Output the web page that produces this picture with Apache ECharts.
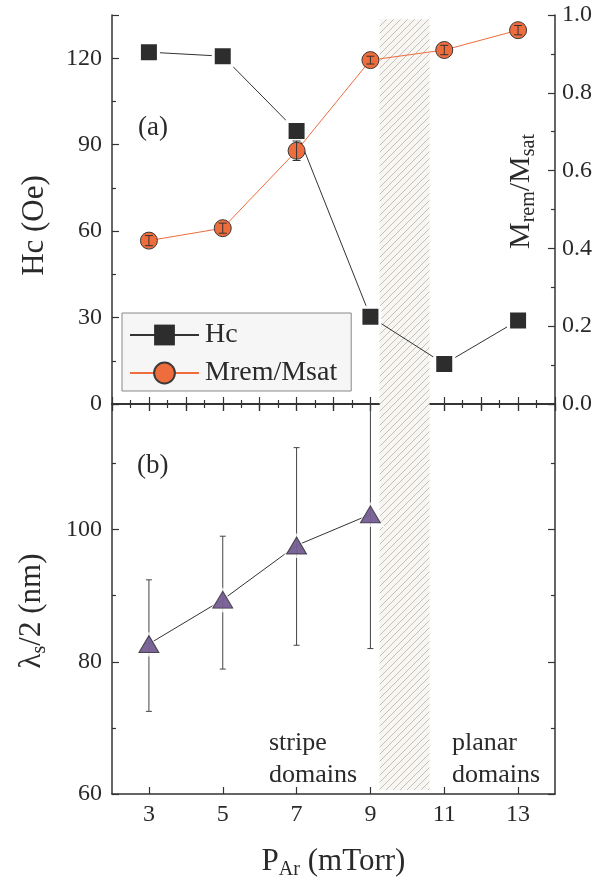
<!DOCTYPE html>
<html>
<head>
<meta charset="utf-8">
<script src="https://cdn.jsdelivr.net/npm/echarts@6/dist/echarts.min.js"></script>
<style>
  html, body { margin: 0; padding: 0; background: #fff; }
  #chart { width: 598px; height: 886px; }
</style>
</head>
<body>
<div id="chart"></div>
<script>
// panel (a): coercive field and remanence ratio vs Ar pressure
const pressure = [3, 5, 7, 9, 11, 13];
const hc = [122.1, 120.7, 94.7, 30.3, 13.9, 29.0];
const mRatio = [0.420, 0.452, 0.651, 0.884, 0.910, 0.961];
const mRatioErr = [0.013, 0.013, 0.025, 0.010, 0.012, 0.012];

// panel (b): half stripe period
const lambdaPressure = [3, 5, 7, 9];
const lambdaHalf = [82.7, 89.4, 97.6, 102.3];
const lambdaLow = [72.5, 78.9, 82.5, 82.0];
const lambdaHigh = [92.4, 99.0, 112.4, 122.6];

// ticks and shaded transition region
const xLabelTicks = [3, 5, 7, 9, 11, 13];
const xMinorTicks = [4, 6, 8, 10, 12];
const hatchX = [9.25, 10.6];

const FONT = '"Liberation Serif", "Times New Roman", serif';
const INK = '#2a2a2a';
const AXIS = '#333';

function hatchPattern() {
    let c = document.createElement('canvas');
    c.width = 7; c.height = 7;
    let ctx = c.getContext('2d');
    ctx.fillStyle = '#f7f6f3';
    ctx.fillRect(0, 0, 7, 7);
    ctx.strokeStyle = '#c6bfb7';
    ctx.lineWidth = 1;
    ctx.beginPath();
    ctx.moveTo(-1, 8);
    ctx.lineTo(8, -1);
    ctx.stroke();
    return { image: c, repeat: 'repeat' };
}

function errorBars(capHalf, color) {
    return function (params, api) {
        let x = api.value(0);
        let lo = api.coord([x, api.value(1)]);
        let hi = api.coord([x, api.value(2)]);
        let style = { stroke: color, lineWidth: 1 };
        return {
            type: 'group',
            children: [
                { type: 'line', shape: { x1: lo[0], y1: lo[1], x2: hi[0], y2: hi[1] }, style: style },
                { type: 'line', shape: { x1: lo[0] - capHalf, y1: lo[1], x2: lo[0] + capHalf, y2: lo[1] }, style: style },
                { type: 'line', shape: { x1: hi[0] - capHalf, y1: hi[1], x2: hi[0] + capHalf, y2: hi[1] }, style: style }
            ]
        };
    };
}

const tickLabel = { fontFamily: FONT, fontSize: 24, color: INK };
const axisLine = { lineStyle: { color: AXIS, width: 1.5 } };
const majorTick = { inside: true, length: 7, lineStyle: { color: AXIS, width: 1.2 } };
const minorTick = { show: true, splitNumber: 2, length: 4, lineStyle: { color: AXIS, width: 1.2 } };
const subStyle = { fontFamily: FONT, fontSize: 20, color: INK, padding: [16, 0, 0, 0] };
const nameBase = { fontFamily: FONT, fontSize: 31, color: INK };

let chart = echarts.init(document.getElementById('chart'));
let hatch = hatchPattern();

let option = {
    animation: false,
    backgroundColor: '#fff',
    grid: [
        { left: 112, right: 43, top: 15, height: 389, outerBoundsMode: 'none', containLabel: false },
        { left: 112, right: 43, top: 404, height: 390, outerBoundsMode: 'none', containLabel: false }
    ],
    legend: {
        left: 122, top: 313,
        orient: 'vertical',
        backgroundColor: '#f6f6f6',
        borderColor: '#888', borderWidth: 1,
        padding: [8, 14, 4, 7],
        itemWidth: 69, itemHeight: 26, itemGap: 10,
        textStyle: { fontFamily: FONT, fontSize: 28, color: INK, padding: [0, 0, 0, 1] },
        data: [
            { name: 'Hc', itemStyle: { borderWidth: 0 } },
            { name: 'Mrem/Msat' }
        ]
    },
    xAxis: [
        // panel (a) bottom and top
        { gridIndex: 0, type: 'value', min: 2, max: 14, interval: 1, axisLine: axisLine,
          axisTick: majorTick, minorTick: minorTick, axisLabel: { show: false }, splitLine: { show: false } },
        { gridIndex: 0, type: 'value', position: 'top', min: 2, max: 14, interval: 1, axisLine: axisLine,
          axisTick: majorTick, minorTick: minorTick, axisLabel: { show: false }, splitLine: { show: false } },
        // panel (b) bottom: labelled odd ticks
        { gridIndex: 1, type: 'value', min: 2, max: 14, axisLine: axisLine,
          axisTick: Object.assign({}, majorTick, { customValues: xLabelTicks }),
          axisLabel: Object.assign({}, tickLabel, { margin: 9, customValues: xLabelTicks }),
          name: 'P{sub|Ar} (mTorr)', nameLocation: 'middle', nameGap: 50, nameMoveOverlap: false,
          nameTextStyle: Object.assign({}, nameBase, { rich: { sub: subStyle } }),
          splitLine: { show: false } },
        // panel (b) bottom: short even ticks
        { gridIndex: 1, type: 'value', min: 2, max: 14, axisLine: { show: false },
          axisTick: { inside: true, length: 4, customValues: xMinorTicks, lineStyle: { color: AXIS, width: 1.2 } },
          axisLabel: { show: false }, splitLine: { show: false } },
        // panel (b) top
        { gridIndex: 1, type: 'value', position: 'top', min: 2, max: 14, interval: 1, axisLine: axisLine,
          axisTick: majorTick, axisLabel: { show: false }, splitLine: { show: false } }
    ],
    yAxis: [
        { gridIndex: 0, type: 'value', min: 0, max: 135, interval: 30, axisLine: axisLine,
          axisTick: majorTick, minorTick: minorTick, splitLine: { show: false },
          axisLabel: Object.assign({}, tickLabel, { margin: 10,
              formatter: v => (v % 30 === 0 ? String(v) : '') }),
          name: 'Hc (Oe)', nameLocation: 'middle', nameGap: 62, nameRotate: 90, nameMoveOverlap: false,
          nameTextStyle: Object.assign({}, nameBase, { padding: [0, 32, 0, 0] }) },
        { gridIndex: 0, type: 'value', position: 'right', min: 0, max: 1, interval: 0.2, axisLine: axisLine,
          axisTick: majorTick, minorTick: minorTick, splitLine: { show: false },
          axisLabel: Object.assign({}, tickLabel, { margin: 7, formatter: v => v.toFixed(1) }),
          name: 'M{sub|rem}/M{sub|sat}', nameLocation: 'middle', nameGap: -52, nameRotate: 90, nameMoveOverlap: false,
          nameTextStyle: Object.assign({}, nameBase, { fontSize: 30, padding: [0, 0, 0, 36], rich: { sub: subStyle } }) },
        { gridIndex: 1, type: 'value', min: 60, max: 119, interval: 20, axisLine: axisLine,
          axisTick: majorTick, minorTick: minorTick, splitLine: { show: false },
          axisLabel: Object.assign({}, tickLabel, { margin: 10,
              formatter: v => (v % 20 === 0 ? String(v) : '') }),
          name: '\u03bb{sub|s}/2 (nm)', nameLocation: 'middle', nameGap: 62, nameRotate: 90, nameMoveOverlap: false,
          nameTextStyle: Object.assign({}, nameBase, { padding: [0, 24, 0, 0], rich: { sub: subStyle } }) },
        { gridIndex: 1, type: 'value', position: 'right', min: 60, max: 119, interval: 20, axisLine: axisLine,
          axisTick: majorTick, minorTick: minorTick, splitLine: { show: false }, axisLabel: { show: false } }
    ],
    series: [
        {
            name: 'Hc', type: 'line', xAxisIndex: 0, yAxisIndex: 0, z: 2,
            data: pressure.map((p, i) => [p, hc[i]]),
            symbol: 'rect', symbolSize: 19,
            itemStyle: { color: '#2d2d2d', borderColor: '#fff', borderWidth: 3 },
            lineStyle: { color: '#333', width: 1 },
            markArea: {
                silent: true,
                label: { show: false },
                itemStyle: { color: hatch },
                data: [[{ xAxis: hatchX[0], yAxis: 133.5 }, { xAxis: hatchX[1], yAxis: 0 }]]
            }
        },
        {
            name: 'Mrem/Msat', type: 'line', xAxisIndex: 0, yAxisIndex: 1, z: 3,
            data: pressure.map((p, i) => [p, mRatio[i]]),
            symbol: 'circle', symbolSize: 17,
            itemStyle: { color: '#ef6d3d', borderColor: '#3a3a3a', borderWidth: 1 },
            lineStyle: { color: '#ef6d3d', width: 1 }
        },
        {
            type: 'custom', xAxisIndex: 0, yAxisIndex: 1, z: 4, silent: true,
            renderItem: errorBars(4, '#333'),
            data: pressure.map((p, i) => [p, mRatio[i] - mRatioErr[i], mRatio[i] + mRatioErr[i]])
        },
        {
            type: 'line', xAxisIndex: 2, yAxisIndex: 2, z: 2, symbol: 'none',
            data: lambdaPressure.map((p, i) => [p, lambdaHalf[i]]),
            lineStyle: { color: '#333', width: 1 },
            markArea: {
                silent: true,
                label: { show: false },
                itemStyle: { color: hatch },
                data: [[{ xAxis: hatchX[0], yAxis: 119 }, { xAxis: hatchX[1], yAxis: 60.6 }]]
            }
        },
        {
            type: 'custom', xAxisIndex: 2, yAxisIndex: 2, z: 3, silent: true, clip: true,
            renderItem: errorBars(3, '#444'),
            data: lambdaPressure.map((p, i) => [p, lambdaLow[i], lambdaHigh[i]])
        },
        {
            type: 'scatter', xAxisIndex: 2, yAxisIndex: 2, z: 4, silent: true,
            symbol: 'triangle', symbolSize: [28, 25],
            itemStyle: { color: '#fff' },
            data: lambdaPressure.map((p, i) => [p, lambdaHalf[i]])
        },
        {
            type: 'scatter', xAxisIndex: 2, yAxisIndex: 2, z: 5,
            symbol: 'triangle', symbolSize: [20, 17],
            itemStyle: { color: '#5b3f80', borderColor: '#2a2a2a', borderWidth: 1 },
            data: lambdaPressure.map((p, i) => [p, lambdaHalf[i]])
        }
    ],
    graphic: [
        { type: 'text', left: 138, top: 114, style: { text: '(a)', font: '27px ' + FONT, fill: INK } },
        { type: 'text', left: 137, top: 452, style: { text: '(b)', font: '27px ' + FONT, fill: INK } },
        { type: 'text', left: 269, top: 727, style: { text: 'stripe\ndomains', font: '26px ' + FONT, fill: INK, lineHeight: 32 } },
        { type: 'text', left: 452, top: 727, style: { text: 'planar\ndomains', font: '26px ' + FONT, fill: INK, lineHeight: 32 } }
    ]
};

option && chart.setOption(option);
</script>
</body>
</html>
